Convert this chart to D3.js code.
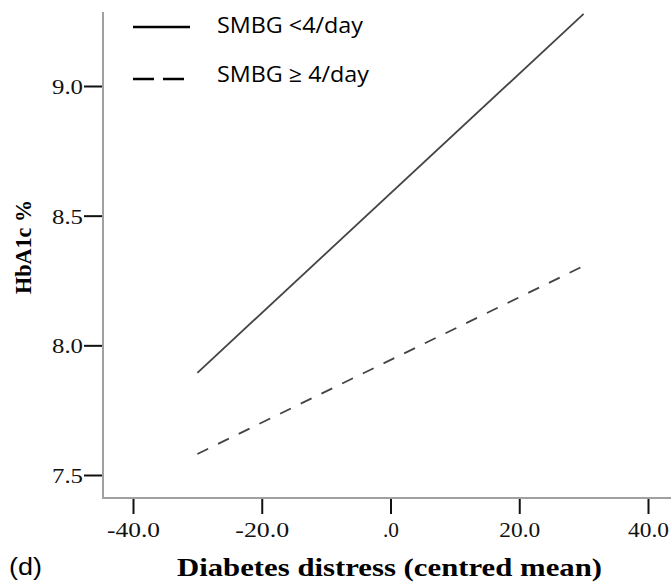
<!DOCTYPE html>
<html><head><meta charset="utf-8">
<script src="https://cdn.jsdelivr.net/npm/d3@7"></script>
<style>html,body{margin:0;padding:0;background:#fff;}svg{display:block;}</style>
</head><body>
<script>
// ---- data ----
const seriesNames = ["SMBG <4/day", "SMBG \u2265 4/day"];
const distressX = [-30, 30];
const hba1cLow = [7.894, 9.278];   // SMBG <4/day (solid)
const hba1cHigh = [7.581, 8.306];  // SMBG >= 4/day (dashed)
const xTicks = [-40, -20, 0, 20, 40];
const xTickLabels = ["-40.0", "-20.0", ".0", "20.0", "40.0"];
const yTicks = [7.5, 8.0, 8.5, 9.0];
const yTickLabels = ["7.5", "8.0", "8.5", "9.0"];
const xTitle = "Diabetes distress (centred mean)";
const yTitle = "HbA1c %";
const panelLabel = "(d)";

const W = 671, H = 583;
const svg = d3.select("body").append("svg").attr("width", W).attr("height", H);

const x = d3.scaleLinear().domain([-40, 40]).range([133, 648]);
const y = d3.scaleLinear().domain([7.5, 9.0]).range([475, 86]);
const axisX0 = 103, axisY0 = 498;
const serif = "'Liberation Serif','Times New Roman',serif";

// axis lines (gray)
svg.append("line").attr("x1", axisX0).attr("x2", axisX0).attr("y1", 12).attr("y2", axisY0 + 1)
  .attr("stroke", "#a0a0a0").attr("stroke-width", 2);
svg.append("line").attr("x1", axisX0).attr("x2", W).attr("y1", axisY0).attr("y2", axisY0)
  .attr("stroke", "#a0a0a0").attr("stroke-width", 2);

// x axis ticks
const xa = svg.append("g").attr("transform", `translate(0,${axisY0 + 1})`)
  .call(d3.axisBottom(x).tickValues(xTicks).tickSize(15).tickSizeOuter(0)
    .tickFormat((d, i) => xTickLabels[i]));
xa.select(".domain").remove();
xa.selectAll(".tick line").attr("stroke", "#111").attr("stroke-width", 2);
const xw = [53, 54, 16, 41, 41];
xa.selectAll(".tick text").attr("y", 0).attr("dy", 0)
  .attr("transform", "translate(0,38)")
  .attr("font-family", serif).attr("font-size", 22)
  .attr("fill", "#111")
  .attr("textLength", (d, i) => xw[i]).attr("lengthAdjust", "spacingAndGlyphs");

// y axis ticks
const ya = svg.append("g").attr("transform", `translate(${axisX0 - 1},0)`)
  .call(d3.axisLeft(y).tickValues(yTicks).tickSize(18).tickSizeOuter(0)
    .tickFormat((d, i) => yTickLabels[i]));
ya.select(".domain").remove();
ya.selectAll(".tick line").attr("stroke", "#111").attr("stroke-width", 2);
ya.selectAll(".tick text").attr("x", -19).attr("dy", "0.34em")
  .attr("font-family", serif).attr("font-size", 22)
  .attr("fill", "#111")
  .attr("textLength", 31).attr("lengthAdjust", "spacingAndGlyphs");

// lines
const line = d3.line().x(d => x(d[0])).y(d => y(d[1]));
svg.append("path").datum(distressX.map((v, i) => [v, hba1cLow[i]]))
  .attr("d", line).attr("fill", "none").attr("stroke", "#444").attr("stroke-width", 1.8);
svg.append("path").datum(distressX.map((v, i) => [v, hba1cHigh[i]]))
  .attr("d", line).attr("fill", "none").attr("stroke", "#444").attr("stroke-width", 1.8)
  .attr("stroke-dasharray", "12,11");

// legend
const lg = svg.append("g");
lg.append("line").attr("x1", 133).attr("x2", 190).attr("y1", 27).attr("y2", 27)
  .attr("stroke", "#000").attr("stroke-width", 2.5);
lg.append("line").attr("x1", 133).attr("x2", 184).attr("y1", 79).attr("y2", 79)
  .attr("stroke", "#000").attr("stroke-width", 2.5).attr("stroke-dasharray", "21,9");
lg.selectAll("text.leg").data(seriesNames).join("text").attr("class", "leg")
  .attr("x", 217).attr("y", (d, i) => i === 0 ? 33 : 82)
  .attr("font-family", "'Open Sans','Noto Sans',sans-serif").attr("font-size", 22)
  .attr("fill", "#000")
  .attr("textLength", (d, i) => i === 0 ? 146 : 152).attr("lengthAdjust", "spacingAndGlyphs")
  .text(d => d);

// titles
svg.append("text").attr("x", 177).attr("y", 576)
  .attr("font-family", serif).attr("font-weight", "bold")
  .attr("font-size", 26).attr("fill", "#000")
  .attr("textLength", 425).attr("lengthAdjust", "spacingAndGlyphs")
  .text(xTitle);
svg.append("text").attr("transform", "translate(31,247) rotate(-90)")
  .attr("text-anchor", "middle")
  .attr("font-family", serif).attr("font-weight", "bold")
  .attr("font-size", 24).attr("fill", "#000")
  .attr("textLength", 94).attr("lengthAdjust", "spacingAndGlyphs")
  .text(yTitle);
svg.append("text").attr("x", 9).attr("y", 575)
  .attr("font-family", "'Liberation Sans',Arial,sans-serif")
  .attr("font-size", 23).attr("fill", "#000")
  .attr("textLength", 33).attr("lengthAdjust", "spacingAndGlyphs")
  .text(panelLabel);
</script>
</body></html>
